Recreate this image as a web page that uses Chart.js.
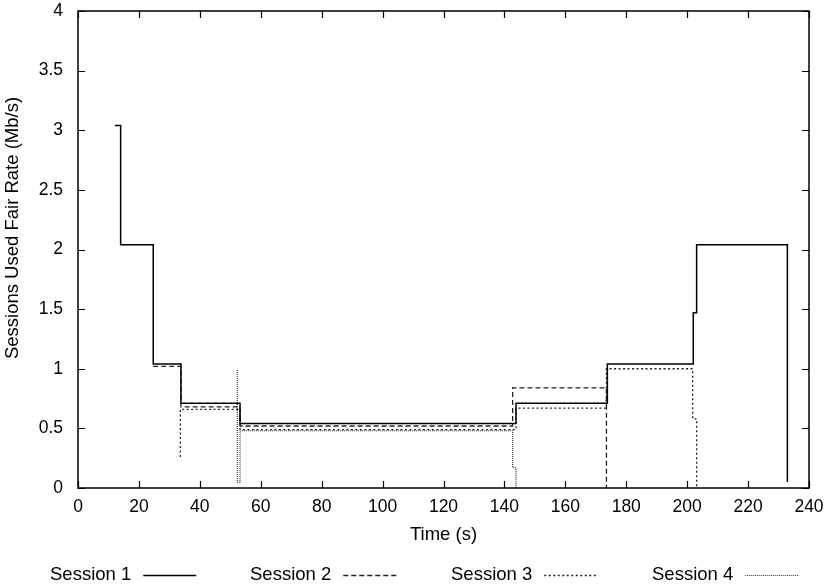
<!DOCTYPE html>
<html>
<head>
<meta charset="utf-8">
<script src="https://cdn.jsdelivr.net/npm/chart.js@4"></script>
<style>
  html, body { margin: 0; padding: 0; background: #fff; }
  canvas { display: block; }
</style>
</head>
<body>
<canvas id="rateChart" width="828" height="587"></canvas>
<script>
//========================= Data ===========================
// step points: value holds from this time until the next time
var s1Time = [12.1, 14.0, 24.7, 33.8, 53.2, 143.8, 173.8, 202.0, 203.1, 232.9];
var s1Rate = [3.04, 2.04, 1.04, 0.71, 0.54, 0.71, 1.04, 1.47, 2.04, 0.05];

var s2Time = [24.7, 33.8, 53.2, 142.7, 173.5];
var s2Rate = [1.02, 0.68, 0.52, 0.84, 0];

var s3Time = [33.6, 33.6, 53.2, 143.8, 173.5, 201.8, 203.1];
var s3Rate = [0.26, 0.66, 0.49, 0.67, 1.00, 0.58, 0];

var s4Time = [52.3, 52.3, 53.2, 142.7, 143.8];
var s4Rate = [0.99, 0.05, 0.48, 0.17, 0];

var seriesNames = ["Session 1", "Session 2", "Session 3", "Session 4"];
var xTicks = [0, 20, 40, 60, 80, 100, 120, 140, 160, 180, 200, 220, 240];
var yTicks = [0, 0.5, 1, 1.5, 2, 2.5, 3, 3.5, 4];

var FONT = "'Liberation Sans', Arial, Helvetica, sans-serif";

function toPoints(t, v) {
    var pts = [];
    for (var i = 0; i < t.length; i++) pts.push({x: t[i], y: v[i]});
    return pts;
}

function fmt(v) {
    return String(v);
}

//========================= Frame, ticks, titles, legend ===========================
var framePlugin = {
    id: 'frame',
    afterDraw: function (chart) {
        var ctx = chart.ctx;
        var a = chart.chartArea;
        var xs = chart.scales.x, ys = chart.scales.y;
        ctx.save();
        ctx.strokeStyle = '#000';
        ctx.lineWidth = 1.5;
        ctx.setLineDash([]);
        ctx.strokeRect(a.left, a.top, a.right - a.left, a.bottom - a.top);

        // inward tick marks on all four sides
        ctx.lineWidth = 1.2;
        ctx.beginPath();
        xTicks.forEach(function (t) {
            var px = Math.round(xs.getPixelForValue(t)) + 0.5;
            ctx.moveTo(px, a.bottom); ctx.lineTo(px, a.bottom - 7);
            ctx.moveTo(px, a.top); ctx.lineTo(px, a.top + 7);
        });
        yTicks.forEach(function (t) {
            var py = Math.round(ys.getPixelForValue(t)) + 0.5;
            ctx.moveTo(a.left, py); ctx.lineTo(a.left + 7, py);
            ctx.moveTo(a.right, py); ctx.lineTo(a.right - 7, py);
        });
        ctx.stroke();

        // axis titles
        ctx.fillStyle = '#000';
        ctx.font = '18.5px ' + FONT;
        ctx.textAlign = 'center';
        ctx.textBaseline = 'middle';
        ctx.fillText('Time (s)', (a.left + a.right) / 2, 535);
        ctx.save();
        ctx.translate(13, 228);
        ctx.rotate(-Math.PI / 2);
        ctx.fillText('Sessions Used Fair Rate (Mb/s)', 0, 0);
        ctx.restore();

        // legend: text then line sample
        var legendX = [50, 250, 451, 652];
        var legendY = 575;
        ctx.textAlign = 'left';
        chart.data.datasets.forEach(function (ds, i) {
            ctx.fillStyle = '#000';
            ctx.fillText(seriesNames[i], legendX[i], legendY);
            var w = ctx.measureText(seriesNames[i]).width;
            var x0 = legendX[i] + w + 12;
            ctx.strokeStyle = ds.borderColor;
            ctx.lineWidth = ds.borderWidth;
            ctx.setLineDash(ds.borderDash || []);
            ctx.beginPath();
            ctx.moveTo(x0, legendY + 0.5);
            ctx.lineTo(x0 + 53, legendY + 0.5);
            ctx.stroke();
        });
        ctx.restore();
    }
};

//========================= Chart ===========================
function chart(id) {
    var chrt = document.getElementById(id).getContext("2d");
    var chartId = new Chart(chrt, {
        type: 'line',
        data: {
            datasets: [{
                label: seriesNames[0],
                data: toPoints(s1Time, s1Rate),
                borderColor: '#000',
                borderWidth: 1.5,
                stepped: 'before',
                pointRadius: 0,
            }, {
                label: seriesNames[1],
                data: toPoints(s2Time, s2Rate),
                borderColor: '#222',
                borderWidth: 1.3,
                borderDash: [5, 3],
                stepped: 'before',
                pointRadius: 0,
            }, {
                label: seriesNames[2],
                data: toPoints(s3Time, s3Rate),
                borderColor: '#222',
                borderWidth: 1.3,
                borderDash: [2, 2.5],
                stepped: 'before',
                pointRadius: 0,
            }, {
                label: seriesNames[3],
                data: toPoints(s4Time, s4Rate),
                borderColor: '#333',
                borderWidth: 1.2,
                borderDash: [1, 1],
                stepped: 'before',
                pointRadius: 0,
            }],
        },
        options: {
            responsive: false,
            animation: false,
            devicePixelRatio: 1,
            layout: {
                padding: {left: 0, right: 19, top: 11, bottom: 0},
            },
            plugins: {
                legend: {display: false},
                tooltip: {enabled: false},
            },
            scales: {
                x: {
                    type: 'linear',
                    min: 0,
                    max: 240,
                    afterBuildTicks: function (s) {
                        s.ticks = xTicks.map(function (v) { return {value: v}; });
                    },
                    afterFit: function (s) {
                        s.height = 99;
                        s.paddingLeft = 0;
                        s.paddingRight = 0;
                    },
                    grid: {display: false, drawTicks: false},
                    border: {display: false},
                    ticks: {
                        color: '#000',
                        padding: 9,
                        maxRotation: 0,
                        autoSkip: false,
                        font: {family: FONT, size: 17.5},
                        callback: fmt,
                    },
                },
                y: {
                    type: 'linear',
                    min: 0,
                    max: 4,
                    afterBuildTicks: function (s) {
                        s.ticks = yTicks.map(function (v) { return {value: v}; });
                    },
                    afterFit: function (s) {
                        s.width = 78;
                        s.paddingTop = 0;
                        s.paddingBottom = 0;
                    },
                    grid: {display: false, drawTicks: false},
                    border: {display: false},
                    ticks: {
                        color: '#000',
                        padding: 15,
                        autoSkip: false,
                        font: {family: FONT, size: 17.5},
                        callback: fmt,
                    },
                },
            },
        },
        plugins: [framePlugin],
    });
    return chartId;
}

chart("rateChart");
</script>
</body>
</html>
